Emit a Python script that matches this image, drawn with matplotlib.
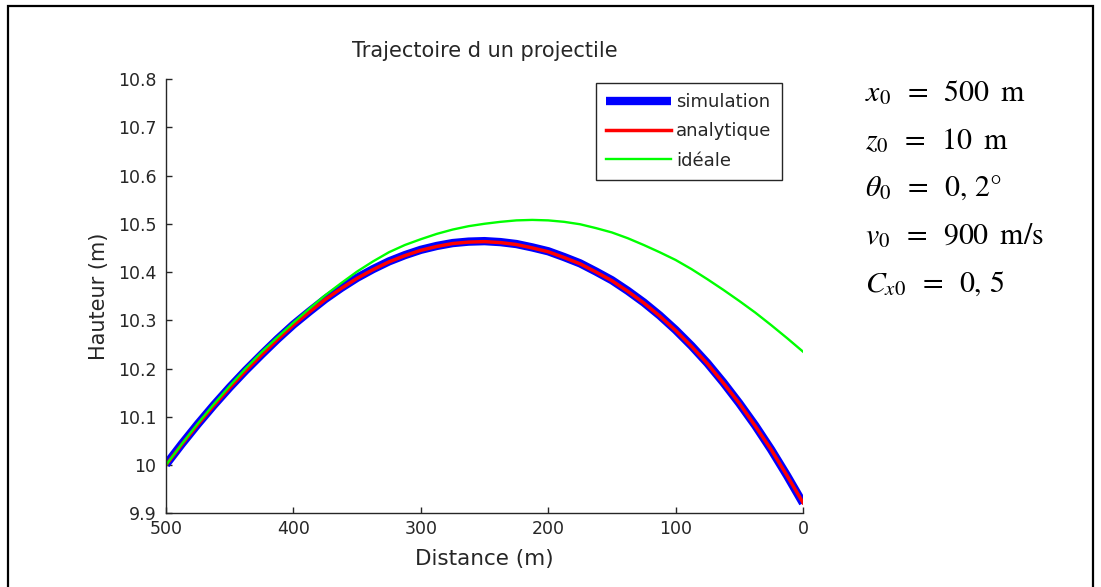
import numpy as np
import matplotlib
matplotlib.use("Agg")
import matplotlib.pyplot as plt
from matplotlib.patches import Rectangle

# distance (m), read every 12.5 m
distance = [500, 487.5, 475, 462.5, 450, 437.5, 425, 412.5, 400, 387.5,
            375, 362.5, 350, 337.5, 325, 312.5, 300, 287.5, 275, 262.5,
            250, 237.5, 225, 212.5, 200, 187.5, 175, 162.5, 150, 137.5,
            125, 112.5, 100, 87.5, 75, 62.5, 50, 37.5, 25, 12.5, 0]
simulation = [10.001, 10.044, 10.085, 10.124, 10.161, 10.196, 10.229, 10.261, 10.291, 10.318,
              10.344, 10.367, 10.388, 10.406, 10.422, 10.435, 10.446, 10.454, 10.460, 10.463,
              10.464, 10.462, 10.458, 10.451, 10.443, 10.431, 10.418, 10.401, 10.383, 10.361,
              10.337, 10.310, 10.280, 10.247, 10.211, 10.171, 10.128, 10.082, 10.032, 9.978, 9.921]
analytique = [10.000, 10.043, 10.084, 10.123, 10.160, 10.195, 10.228, 10.260, 10.290, 10.317,
              10.343, 10.366, 10.387, 10.405, 10.421, 10.434, 10.445, 10.453, 10.459, 10.462,
              10.463, 10.461, 10.457, 10.450, 10.442, 10.430, 10.417, 10.400, 10.382, 10.360,
              10.336, 10.309, 10.279, 10.246, 10.210, 10.170, 10.128, 10.081, 10.032, 9.978, 9.922]
ideale = [10.000, 10.044, 10.086, 10.126, 10.164, 10.200, 10.234, 10.265, 10.295, 10.324,
          10.352, 10.377, 10.401, 10.422, 10.441, 10.456, 10.468, 10.479, 10.488, 10.495,
          10.500, 10.504, 10.507, 10.508, 10.507, 10.504, 10.499, 10.491, 10.482, 10.470,
          10.456, 10.441, 10.425, 10.406, 10.385, 10.363, 10.340, 10.316, 10.290, 10.263, 10.235]

xticks = [500, 400, 300, 200, 100, 0]
yticks = [9.9, 10.0, 10.1, 10.2, 10.3, 10.4, 10.5, 10.6, 10.7, 10.8]
ytick_labels = ["9.9", "10", "10.1", "10.2", "10.3", "10.4", "10.5", "10.6", "10.7", "10.8"]

params = [r"$x_0\;\;=\;\;500\;\;\mathrm{m}$",
          r"$z_0\;\;=\;\;10\;\;\mathrm{m}$",
          r"$\theta_0\;\;=\;\;0,\,2\mathrm{°}$",
          r"$v_0\;\;=\;\;900\;\;\mathrm{m/s}$",
          r"$C_{x0}\;\;=\;\;0,\,5$"]

plt.rcParams["font.family"] = "DejaVu Sans"
plt.rcParams["mathtext.fontset"] = "stix"

fig = plt.figure(figsize=(11.01, 5.87), dpi=100)
ax = fig.add_axes([166 / 1101, 1 - 513.3 / 587, 637 / 1101, 434.3 / 587])

ax.plot(distance, simulation, color="#0000ff", lw=6.0, label="simulation", solid_capstyle="butt")
ax.plot(distance, analytique, color="#ff0000", lw=2.5, label="analytique")
ax.plot(distance, ideale, color="#00ff00", lw=1.7, label="idéale")

ax.set_xlim(500, 0)
ax.set_ylim(9.9, 10.8)
ax.set_xticks(xticks)
ax.set_xticklabels([str(t) for t in xticks])
ax.set_yticks(yticks)
ax.set_yticklabels(ytick_labels)

for side in ("top", "right"):
    ax.spines[side].set_visible(False)
for side in ("left", "bottom"):
    ax.spines[side].set_color("#262626")
    ax.spines[side].set_linewidth(1.0)
ax.tick_params(direction="in", length=4, width=1.0, color="#262626",
               labelsize=12.5, labelcolor="#262626")
ax.tick_params(axis="y", pad=7)
ax.tick_params(axis="x", pad=5)

ax.set_title("Trajectoire d un projectile", fontsize=15, color="#262626", pad=16)
ax.set_xlabel("Distance (m)", fontsize=15.5, color="#262626", labelpad=8)
ax.set_ylabel("Hauteur (m)", fontsize=15, color="#262626", labelpad=6)

leg = ax.legend(loc="upper left", bbox_to_anchor=(0.675, 0.99), borderaxespad=0,
                fontsize=13, handlelength=3.6, handletextpad=0.3, labelspacing=0.62,
                fancybox=False, framealpha=1, edgecolor="#262626", borderpad=0.55)
leg.get_frame().set_linewidth(1.0)
for t in leg.get_texts():
    t.set_color("#262626")

for i, txt in enumerate(params):
    fig.text(865 / 1101, 1 - (93 + i * 47.5) / 587, txt, fontsize=21.5,
             va="center", ha="left", color="black")

fig.patches.append(Rectangle((8.3 / 1101, -0.01), (1093 - 8.3) / 1101, 1 - 5.5 / 587 + 0.01,
                             transform=fig.transFigure, fill=False, edgecolor="black",
                             linewidth=1.6, zorder=10))

fig.savefig("out.png", dpi=100)
